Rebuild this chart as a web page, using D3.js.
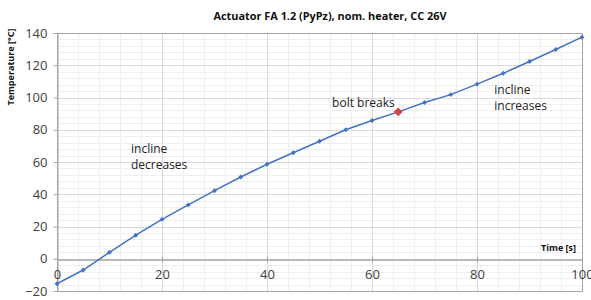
<!DOCTYPE html>
<html><head><meta charset="utf-8">
<script src="https://cdn.jsdelivr.net/npm/d3@7"></script>
<style>body{margin:0;background:#fff;} svg{display:block;}</style>
</head><body>
<svg id="c" width="591" height="300"></svg>
<script>
const title = "Actuator FA 1.2 (PyPz), nom. heater, CC 26V";
const yLabel = "Temperature [°C]";
const xLabel = "Time [s]";
const times = [0,5,10,15,20,25,30,35,40,45,50,55,60,65,70,75,80,85,90,95,100];
const temps = [-15.5,-7.0,4.0,14.6,24.4,33.4,42.2,50.7,58.6,65.7,72.9,80.0,85.7,91.1,96.9,101.8,108.3,115.0,122.3,129.8,137.4];
const breakTime = 65;
const xTicks = [0,20,40,60,80,100];
const yTicks = [-20,0,20,40,60,80,100,120,140];
const notes = [
  {x:52.4, y:94.0, lines:["bolt breaks"]},
  {x:83.3, y:102.0, lines:["incline","increases"]},
  {x:14.1, y:65.5, lines:["incline","decreases"]}
];

const svg = d3.select("#c");
const font = "'Open Sans', 'Liberation Sans', sans-serif";
const L=57, R=582, T=33, B=291;
const x = d3.scaleLinear().domain([0,100]).range([L,R]);
const y = d3.scaleLinear().domain([-20,140]).range([B,T]);

// minor grid
const g = svg.append("g");
g.selectAll(".mx").data(d3.range(0,101,4).filter(v=>v%20!==0)).join("line")
  .attr("x1",d=>Math.round(x(d))+0.5).attr("x2",d=>Math.round(x(d))+0.5).attr("y1",T).attr("y2",B)
  .attr("stroke","#efefef").attr("stroke-width",1);
g.selectAll(".my").data(d3.range(-20,141,4).filter(v=>v%20!==0)).join("line")
  .attr("y1",d=>Math.round(y(d))+0.5).attr("y2",d=>Math.round(y(d))+0.5).attr("x1",L).attr("x2",R)
  .attr("stroke","#efefef").attr("stroke-width",1);
// major grid
g.selectAll(".Mx").data(xTicks).join("line")
  .attr("x1",d=>Math.round(x(d))+0.5).attr("x2",d=>Math.round(x(d))+0.5).attr("y1",T).attr("y2",B)
  .attr("stroke","#d9d9d9").attr("stroke-width",1);
g.selectAll(".My").data(yTicks).join("line")
  .attr("y1",d=>Math.round(y(d))+0.5).attr("y2",d=>Math.round(y(d))+0.5).attr("x1",L).attr("x2",R)
  .attr("stroke","#d9d9d9").attr("stroke-width",1);

// border
svg.append("rect").attr("x",L+0.5).attr("y",T+0.5).attr("width",R-L).attr("height",B-T)
  .attr("fill","none").attr("stroke","#a6a6a6");

// y axis
const ya = svg.append("g").attr("transform",`translate(${L+0.5},0)`)
  .call(d3.axisLeft(y).tickValues(yTicks).tickSize(4).tickPadding(6));
ya.select(".domain").attr("stroke","#a6a6a6");
ya.selectAll(".tick line").attr("stroke","#a6a6a6");
ya.selectAll(".tick text").attr("font-family",font).attr("font-size",13).attr("fill","#404040");

// x axis at y=0
const xa = svg.append("g").attr("transform",`translate(0,${Math.round(y(0))+0.5})`)
  .call(d3.axisBottom(x).tickValues(xTicks).tickSize(0).tickPadding(10));
xa.select(".domain").attr("stroke","#a6a6a6").attr("stroke-width",1.5);
xa.selectAll(".tick line").attr("y1",-3).attr("y2",3).attr("stroke","#a6a6a6");
xa.selectAll(".tick text").attr("font-family",font).attr("font-size",13).attr("fill","#404040");

// line
const pts = times.map((t,i)=>({t, v:temps[i]}));
svg.append("path").datum(pts)
  .attr("d", d3.line().x(d=>x(d.t)).y(d=>y(d.v)))
  .attr("fill","none").attr("stroke","#4472c4").attr("stroke-width",1.5);
svg.selectAll(".pt").data(pts.filter(d=>d.t!==breakTime)).join("path")
  .attr("transform",d=>`translate(${x(d.t)},${y(d.v)}) rotate(45)`)
  .attr("d",d3.symbol().type(d3.symbolSquare).size(12)()).attr("fill","#4472c4");
svg.selectAll(".br").data(pts.filter(d=>d.t===breakTime)).join("path")
  .attr("transform",d=>`translate(${x(d.t)},${y(d.v)}) rotate(45)`)
  .attr("d",d3.symbol().type(d3.symbolSquare).size(40)()).attr("fill","#d0453f");

// title
svg.append("text").attr("x",330).attr("y",20).attr("text-anchor","middle")
  .attr("font-family",font).attr("font-weight","bold").attr("font-size",10.9).attr("fill","#111")
  .text(title);
// axis titles
svg.append("text").attr("transform","translate(14,67) rotate(-90)").attr("text-anchor","middle")
  .attr("font-family",font).attr("font-weight","bold").attr("font-size",9).attr("fill","#111")
  .text(yLabel);
svg.append("text").attr("x",576).attr("y",251).attr("text-anchor","end")
  .attr("font-family",font).attr("font-weight","bold").attr("font-size",9).attr("fill","#111")
  .text(xLabel);

// notes
notes.forEach(n=>{
  const t = svg.append("text").attr("font-family",font).attr("font-size",12).attr("fill","#222");
  n.lines.forEach((s,i)=>{
    t.append("tspan").attr("x",x(n.x)).attr("y",y(n.y)+i*16).text(s);
  });
});
</script>
</body></html>
